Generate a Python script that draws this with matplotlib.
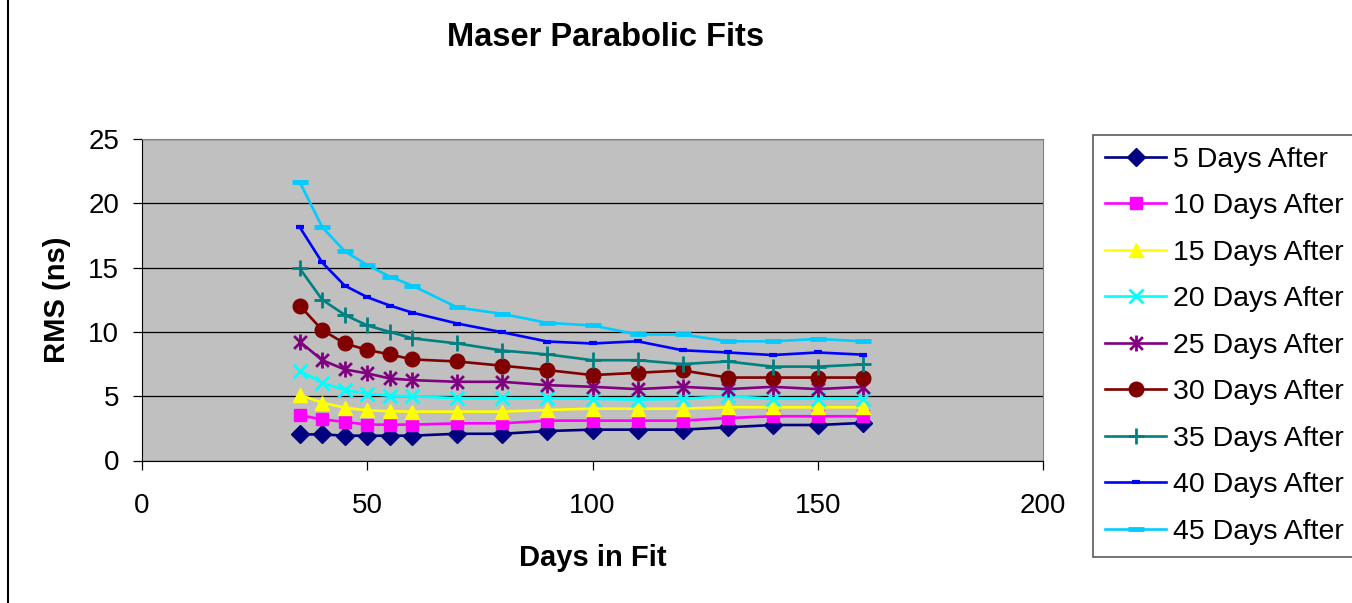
import matplotlib
matplotlib.use('Agg')
import matplotlib.pyplot as plt
from matplotlib.lines import Line2D
from matplotlib.path import Path

plt.rcParams['font.family'] = ['Liberation Sans', 'DejaVu Sans']

# Days in the fit window
days = [35, 40, 45, 50, 55, 60, 70, 80, 90, 100, 110, 120, 130, 140, 150, 160]

# RMS (ns) for each prediction horizon
rms_5 = [2.03, 2.03, 1.93, 1.93, 1.93, 1.93, 2.08, 2.08, 2.29, 2.4, 2.4, 2.4, 2.58, 2.76, 2.76, 2.92]
rms_10 = [3.52, 3.2, 3.0, 2.79, 2.79, 2.79, 2.89, 2.89, 3.1, 3.1, 3.1, 3.1, 3.3, 3.44, 3.44, 3.44]
rms_15 = [5.1, 4.5, 4.1, 3.9, 3.83, 3.8, 3.8, 3.8, 3.93, 4.03, 4.03, 4.03, 4.14, 4.14, 4.14, 4.14]
rms_20 = [6.98, 6.04, 5.47, 5.2, 5.03, 5.0, 4.84, 4.84, 4.84, 4.8, 4.73, 4.8, 5.0, 4.8, 4.8, 4.8]
rms_25 = [9.25, 7.8, 7.08, 6.77, 6.38, 6.25, 6.12, 6.12, 5.86, 5.73, 5.55, 5.73, 5.55, 5.73, 5.55, 5.73]
rms_30 = [12.05, 10.15, 9.1, 8.6, 8.25, 7.86, 7.7, 7.37, 7.03, 6.64, 6.82, 7.0, 6.45, 6.45, 6.45, 6.45]
rms_35 = [14.95, 12.5, 11.33, 10.5, 10.0, 9.5, 9.1, 8.55, 8.25, 7.8, 7.8, 7.5, 7.7, 7.3, 7.3, 7.47]
rms_40 = [18.15, 15.4, 13.6, 12.7, 12.05, 11.5, 10.65, 9.97, 9.25, 9.1, 9.27, 8.57, 8.4, 8.2, 8.4, 8.23]
rms_45 = [21.66, 18.15, 16.27, 15.2, 14.3, 13.6, 11.9, 11.4, 10.7, 10.5, 9.8, 9.8, 9.27, 9.27, 9.45, 9.27]

labels = ['5 Days After', '10 Days After', '15 Days After', '20 Days After',
          '25 Days After', '30 Days After', '35 Days After', '40 Days After',
          '45 Days After']

# Excel style asterisk: x plus a vertical bar
star = Path([(0, -1), (0, 1), (-0.8, -0.8), (0.8, 0.8), (-0.8, 0.8), (0.8, -0.8)],
            [Path.MOVETO, Path.LINETO, Path.MOVETO, Path.LINETO, Path.MOVETO, Path.LINETO])

styles = [
    dict(color='#000080', marker='D', ms=9.5),
    dict(color='#FF00FF', marker='s', ms=9),
    dict(color='#FFFF00', marker='^', ms=10.5),
    dict(color='#00FFFF', marker='x', ms=10, mew=2),
    dict(color='#800080', marker=star, ms=11.5, mew=2),
    dict(color='#800000', marker='o', ms=10.5),
    dict(color='#008080', marker='+', ms=12, mew=2),
    dict(color='#0000FF', marker='_', ms=6, mew=3),
    dict(color='#00CCFF', marker='_', ms=11, mew=3.5),
]

series = [rms_5, rms_10, rms_15, rms_20, rms_25, rms_30, rms_35, rms_40, rms_45]

fig = plt.figure(figsize=(13.52, 6.03), dpi=100)
ax = fig.add_axes([142 / 1352, 1 - 460.5 / 603, (1043 - 142) / 1352, (460.5 - 139) / 603])
ax.set_facecolor('#C0C0C0')

for vals, lab, st in zip(series, labels, styles):
    ax.plot(days, vals, label=lab, lw=1.9, **st)

ax.set_xlim(0, 200)
ax.set_ylim(0, 25)
ax.set_xticks([0, 50, 100, 150, 200])
ax.set_yticks([0, 5, 10, 15, 20, 25])
ax.yaxis.grid(True, color='black', lw=0.9)
ax.set_axisbelow(True)
ax.tick_params(axis='both', labelsize=20, length=6.5, width=0.9, color='black')
ax.tick_params(axis='y', pad=10)
ax.tick_params(axis='x', pad=17)
for side in ['left', 'bottom']:
    ax.spines[side].set_color('black')
for side in ['top', 'right']:
    ax.spines[side].set_color('#808080')

fig.text(606 / 1352, 1 - 38 / 603, 'Maser Parabolic Fits', fontsize=23.5,
         fontweight='bold', ha='center', va='center')
ax.set_xlabel('Days in Fit', fontsize=21, fontweight='bold', labelpad=18)
ax.set_ylabel('RMS (ns)', fontsize=21, fontweight='bold', labelpad=12)

leg = ax.legend(loc='upper left', bbox_to_anchor=(1093 / 1352, 1 - 135 / 603),
                bbox_transform=fig.transFigure, borderaxespad=0, fontsize=20.5,
                frameon=True, fancybox=False, edgecolor='#303030',
                handlelength=2.15, handletextpad=0.25, labelspacing=0.72,
                borderpad=0.42, numpoints=1)
leg.get_frame().set_linewidth(1.2)

fig.add_artist(Line2D([8 / 1352, 8 / 1352], [0, 1], transform=fig.transFigure,
                      color='black', lw=1.5))

fig.savefig('out.png', dpi=100)
